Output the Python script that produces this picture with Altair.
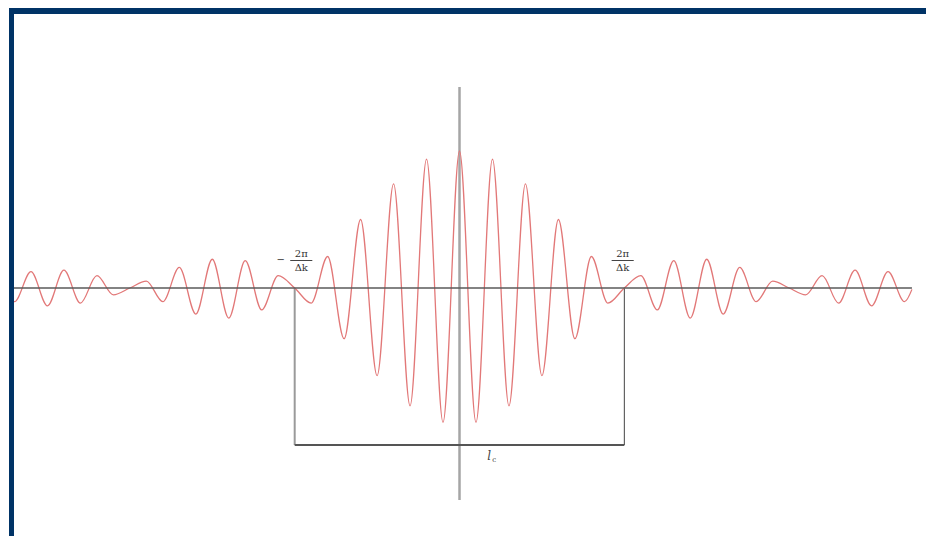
import altair as alt
import pandas as pd

# ---- data (x in units of 2*pi/dk, y = relative amplitude) ----
wave_x = [-2.72, -2.7, -2.6, -2.5, -2.4, -2.3, -2.2, -2.1, -2.0, -1.9, -1.8, -1.7, -1.6,
          -1.5, -1.4, -1.3, -1.2, -1.1, -1.0, -0.9, -0.8, -0.7, -0.6, -0.5, -0.4, -0.3,
          -0.2, -0.1, 0.0, 0.1, 0.2, 0.3, 0.4, 0.5, 0.6, 0.7, 0.8, 0.9, 1.0, 1.1, 1.2,
          1.3, 1.4, 1.5, 1.6, 1.7, 1.8, 1.9, 2.0, 2.1, 2.2, 2.3, 2.4, 2.5, 2.6, 2.7, 2.745]
wave_y = [-0.07, -0.10, 0.12, -0.13, 0.13, -0.11, 0.09, -0.05, 0.00, 0.05, -0.10, 0.15,
          -0.19, 0.21, -0.22, 0.20, -0.16, 0.09, 0.00, -0.11, 0.23, -0.37, 0.50, -0.64,
          0.76, -0.86, 0.94, -0.98, 1.00, -0.98, 0.94, -0.86, 0.76, -0.64, 0.50, -0.37,
          0.23, -0.11, 0.00, 0.09, -0.16, 0.20, -0.22, 0.21, -0.19, 0.15, -0.10, 0.05,
          0.00, -0.05, 0.09, -0.11, 0.13, -0.13, 0.12, -0.10, -0.01]

marker_x = [-1.0, 1.0]          # +/- 2pi/dk
numerators = ["2π", "2π"]
denominators = ["Δk", "Δk"]
bracket_label = "l"
bracket_sub = "c"

# ---- layout ----
W, H = 918, 528
PX_X, PX_Y = 165.0, 137.0       # pixels per data unit
X0, Y0 = 451.0, 280.0           # chart-pixel position of the origin
x_dom = [-X0 / PX_X, (W - X0) / PX_X]
y_dom = [-(H - Y0) / PX_Y, Y0 / PX_Y]
xs = alt.Scale(domain=x_dom, nice=False, zero=False)
ys = alt.Scale(domain=y_dom, nice=False, zero=False)

X_MIN, X_MAX = wave_x[0], wave_x[-1]
V_TOP, V_BOT = 1.467, -1.547
BR_Y = -1.146


def seg(x1, x2, y1, y2, color, width):
    df = pd.DataFrame({"x": [x1], "x2": [x2], "y": [y1], "y2": [y2]})
    return alt.Chart(df).mark_rule(color=color, strokeWidth=width).encode(
        x=alt.X("x:Q", scale=xs, axis=None), x2="x2:Q",
        y=alt.Y("y:Q", scale=ys, axis=None), y2="y2:Q")


wave_df = pd.DataFrame({"x": wave_x, "y": wave_y})
wave = alt.Chart(wave_df).mark_line(color="#e27878", strokeWidth=1.3,
                                    interpolate="monotone").encode(
    x=alt.X("x:Q", scale=xs, axis=None), y=alt.Y("y:Q", scale=ys, axis=None))

v_axis = seg(0, 0, V_BOT, V_TOP, "#a5a5a5", 2.5)
h_axis = seg(X_MIN, X_MAX, 0, 0, "#5a5a5a", 1.5)
left_drop = seg(marker_x[0], marker_x[0], 0, BR_Y, "#9a9a9a", 2)
right_drop = seg(marker_x[1], marker_x[1], 0, BR_Y, "#444444", 1)
bracket = seg(marker_x[0], marker_x[1], BR_Y, BR_Y, "#555555", 2)

frac_cx = [-0.96, 0.99]
lab_df = pd.DataFrame({"x": frac_cx, "num": numerators, "den": denominators})
text_kw = dict(font="DejaVu Serif", fontSize=10, color="#333333", align="center",
               baseline="middle")
num = alt.Chart(lab_df).mark_text(**text_kw, dy=-34).encode(
    x=alt.X("x:Q", scale=xs, axis=None), y=alt.value(Y0), text="num:N")
den = alt.Chart(lab_df).mark_text(**text_kw, dy=-20).encode(
    x=alt.X("x:Q", scale=xs, axis=None), y=alt.value(Y0), text="den:N")
bars_df = pd.DataFrame({"x": [c - 0.067 for c in frac_cx], "x2": [c + 0.067 for c in frac_cx]})
bars = alt.Chart(bars_df).mark_rule(color="#444444", strokeWidth=1).encode(
    x=alt.X("x:Q", scale=xs, axis=None), x2="x2:Q", y=alt.value(Y0 - 27.5))
minus_df = pd.DataFrame({"x": [-1.085], "t": ["−"]})
minus = alt.Chart(minus_df).mark_text(**text_kw).encode(
    x=alt.X("x:Q", scale=xs, axis=None), y=alt.value(Y0 - 28), text="t:N")

lc_df = pd.DataFrame({"x": [0.18], "y": [-1.226], "t": [bracket_label], "s": [bracket_sub]})
lc = alt.Chart(lc_df).mark_text(font="DejaVu Serif", fontSize=12, fontStyle="italic",
                                color="#444444", align="center", baseline="middle").encode(
    x=alt.X("x:Q", scale=xs, axis=None), y=alt.Y("y:Q", scale=ys, axis=None), text="t:N")
lc_sub = alt.Chart(lc_df).mark_text(font="DejaVu Serif", fontSize=7, color="#444444",
                                    align="left", baseline="middle", dx=3, dy=4).encode(
    x=alt.X("x:Q", scale=xs, axis=None), y=alt.Y("y:Q", scale=ys, axis=None), text="s:N")

one = alt.Data(values=[{}])
frame_top = alt.Chart(one).mark_rect(color="#003366").encode(
    x=alt.value(0), x2=alt.value(W), y=alt.value(0), y2=alt.value(6))
frame_left = alt.Chart(one).mark_rect(color="#003366").encode(
    x=alt.value(0), x2=alt.value(5), y=alt.value(0), y2=alt.value(H))

chart = alt.layer(
    v_axis, left_drop, right_drop, bracket, wave, h_axis,
    bars, num, den, minus, lc, lc_sub, frame_top, frame_left
).properties(
    width=W, height=H, padding=0,
    autosize=alt.AutoSizeParams(type="fit", contains="padding"),
    background="white"
).configure_view(stroke=None)

chart.save("out.html", embed_options={"renderer": "svg", "actions": False})
